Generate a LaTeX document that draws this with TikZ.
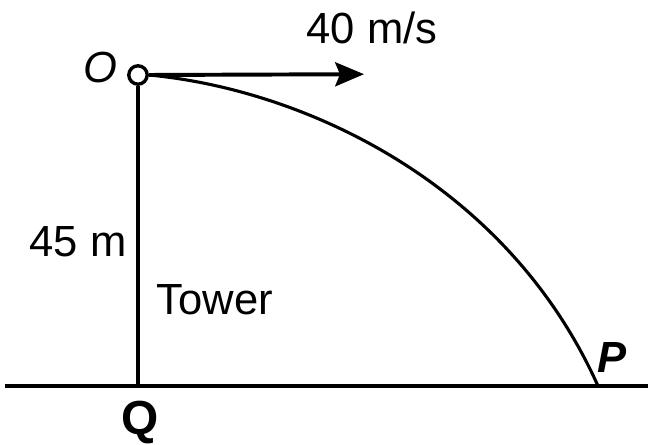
\documentclass[tikz,border=0pt]{standalone}
\usepackage{fontspec}
\setmainfont{Liberation Sans}
\usetikzlibrary{arrows.meta,positioning}

\begin{document}
\begin{tikzpicture}[font=\fontsize{31}{36}\selectfont,>=Stealth]
    \useasboundingbox (0,0) rectangle (16.2,11.125);
    \coordinate (gl) at (0.125,1.475);
    \coordinate (gr) at (16.2,1.475);
    \coordinate (q) at (3.45,1.475);
    \coordinate (p) at (14.95,1.475);
    \coordinate (v) at (9.1,9.27);
    \node[circle,draw,line width=2.4pt,fill=white,minimum size=0.46cm,inner sep=0pt] (o) at (3.45,9.25) {};
    % ground and tower
    \draw[line width=3.4pt] (gl) -- (gr);
    \draw[line width=2.6pt] (o) -- (q);
    % path of the ball
    \draw[line width=2.2pt] (o.east) .. controls (7.675,8.875) and (12.7,6.5) .. (p);
    \draw[->,line width=2.8pt,arrows={-Stealth[length=0.72cm,width=0.6cm,inset=0.12cm]}] (o.east) -- (v);
    % labels
    \node (vlab) at (9.3,10.425) {40 m/s};
    \node (olab) at (2.5,9.425) {\itshape O};
    \node (hlab) at (1.95,5.075) {45 m};
    \node (tlab) at (5.375,3.625) {Tower};
    \node (plab) at (15.3,2.175) {\bfseries\itshape P};
    \node[font=\fontsize{34}{40}\selectfont\bfseries] (qlab) at (3.5,0.55) {Q};
  \end{tikzpicture}
\end{document}
